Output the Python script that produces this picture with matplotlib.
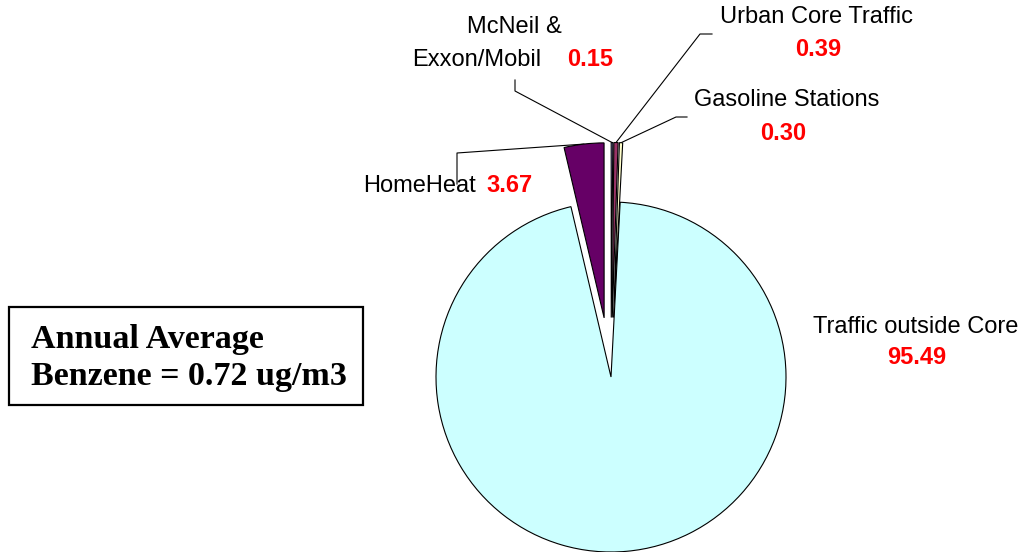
#Purpose: pie chart of benzene source contributions (annual average)

import numpy as np
from matplotlib import pyplot as plt
from matplotlib.patches import Rectangle

#data - clockwise from the start angle
sources = ['Traffic outside Core', 'HomeHeat', 'McNeil & Exxon/Mobil',
           'Urban Core Traffic', 'Gasoline Stations']
shares = [95.49, 3.67, 0.15, 0.39, 0.30]
share_labels = ['95.49', '3.67', '0.15', '0.39', '0.30']
colors = ['#CCFFFF', '#660066', '#9999FF', '#993366', '#FFFFCC']
explode_frac = [0, 0.34, 0.34, 0.34, 0.34]

W, H = 1031, 552
R = 175
fig = plt.figure(figsize=(W / 100, H / 100), dpi=100)
ax = fig.add_axes([0, 0, 1, 1])

#pie drawn in pixel-like data coords (y measured from the bottom)
#note: matplotlib explode is in data units, so scale by radius
wedges, _ = ax.pie(shares, colors=colors, explode=[e * R for e in explode_frac],
                   startangle=87, counterclock=False, center=(611, H - 377),
                   radius=R, frame=True,
                   wedgeprops=dict(edgecolor='black', linewidth=0.8))
for w in wedges:
    w.set_zorder(3)

ax.set_xlim(0, W)
ax.set_ylim(0, H)
ax.axis('off')

def anchor(w):
    #point on the outer arc, middle of the wedge
    mid = np.deg2rad((w.theta1 + w.theta2) / 2)
    cx, cy = w.center
    return cx + w.r * np.cos(mid), cy + w.r * np.sin(mid)

lab_font = dict(family='Liberation Sans', fontsize=17)
num_font = dict(family='Liberation Sans', fontsize=17, fontweight='bold', color='red')

def py(y):
    return H - y

#leader lines (elbow points in pixels from the top)
elbows = {1: [(457, 184), (457, 153)],
          2: [(515, 80), (515, 91)],
          3: [(712, 34), (700, 34)],
          4: [(687, 117), (676, 117)]}
for i, pts in elbows.items():
    ax_, ay_ = anchor(wedges[i])
    xs = [p[0] for p in pts] + [ax_]
    ys = [py(p[1]) for p in pts] + [ay_]
    ax.plot(xs, ys, color='black', linewidth=0.8, zorder=2)

#labels
ax.text(916, py(327), sources[0], ha='center', va='center', **lab_font)
ax.text(917, py(357), share_labels[0], ha='center', va='center', **num_font)

ax.text(363, py(186), sources[1], ha='left', va='center', **lab_font)
ax.text(486, py(186), share_labels[1], ha='left', va='center', **num_font)

ax.text(514, py(27), 'McNeil &', ha='center', va='center', **lab_font)
ax.text(412, py(60), 'Exxon/Mobil', ha='left', va='center', **lab_font)
ax.text(567, py(60), share_labels[2], ha='left', va='center', **num_font)

ax.text(817, py(17), sources[3], ha='center', va='center', **lab_font)
ax.text(818, py(50), share_labels[3], ha='center', va='center', **num_font)

ax.text(787, py(100), sources[4], ha='center', va='center', **lab_font)
ax.text(783, py(133), share_labels[4], ha='center', va='center', **num_font)

#annual average box
ax.add_patch(Rectangle((9, py(405)), 354, 98, facecolor='white',
                       edgecolor='black', linewidth=1.6, zorder=4))
box_font = dict(family='Liberation Serif', fontsize=24.5, fontweight='bold', zorder=5)
ax.text(31, py(348), 'Annual Average', ha='left', va='baseline', **box_font)
ax.text(31, py(385), 'Benzene = 0.72 ug/m3', ha='left', va='baseline', **box_font)

plt.savefig('out.png', dpi=100)
